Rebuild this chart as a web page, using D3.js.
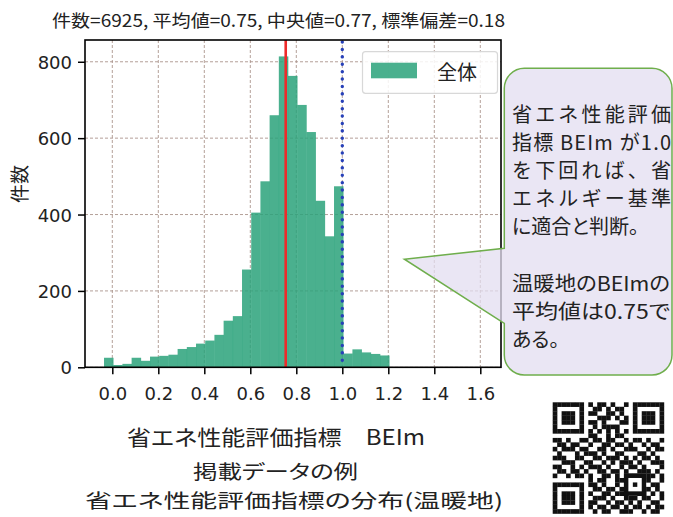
<!DOCTYPE html>
<html>
<head>
<meta charset="utf-8">
<script src="https://cdn.jsdelivr.net/npm/d3@7"></script>
<style>
  html, body { margin: 0; padding: 0; background: #fff; }
  svg { display: block; }
  .jp { font-family: "Noto Sans CJK JP", "Noto Sans", sans-serif; font-feature-settings: "palt"; }
  .jpw { font-family: "Noto Sans CJK JP", "Noto Sans", sans-serif; }
  .num { font-family: "DejaVu Sans", sans-serif; }
</style>
</head>
<body>
<svg id="chart" width="673" height="517"></svg>
<script>
// ---- data ----
const binEdges = [-0.036,0.004,0.044,0.084,0.124,0.164,0.204,0.244,0.284,0.324,0.364,0.404,0.444,0.484,0.524,0.564,0.604,0.644,0.684,0.724,0.764,0.804,0.844,0.884,0.924,0.964,1.004,1.044,1.084,1.124,1.164,1.204];
const counts = [25,6,9,25,17,28,30,33,48,53,62,70,85,122,134,256,405,487,660,814,763,687,616,436,343,474,36,47,39,35,31];
const xTicks = [0.0,0.2,0.4,0.6,0.8,1.0,1.2,1.4,1.6];
const yTicks = [0,200,400,600,800];
const meanValue = 0.754;
const thresholdValue = 1.0;
const titleText = "件数=6925, 平均値=0.75, 中央値=0.77, 標準偏差=0.18";
const xLabel = "省エネ性能評価指標　BEIm";
const yLabel = "件数";
const legendLabel = "全体";
const captionLines = ["掲載データの例", "省エネ性能評価指標の分布(温暖地)"];
const calloutLines = ["省エネ性能評価", "指標 BEIm が1.0", "を下回れば、省", "エネルギー基準", "に適合と判断。", "", "温暖地のBEImの", "平均値は0.75で", "ある。"];
const calloutWidths = [159, 159, 159, 159, null, null, 158, 158, null];
const qrData = [
"1111111010110100101111111",
"1000001001101011001000001",
"1011101011001101001011101",
"1011101000111010101011101",
"1011101011010001101011101",
"1000001001011110001000001",
"1111111010101010101111111",
"0000000011001011000000000",
"1101001101101100101101001",
"0110110010011011010010110",
"1011101100110100111001011",
"0100010111010011000110100",
"1110011001101110101011010",
"0011100110010101110100111",
"1100101011101001011010001",
"0110110100110110100111010",
"1001011010011010111001101",
"0000000010110011101101001",
"1111111011010010110100110",
"1000001001101101001011010",
"1011101010011011100110101",
"1011101001110100111011001",
"1011101011001011010100110",
"1000001010110110101101011",
"1111111001011001110010110"
];

// ---- layout ----
const svg = d3.select("#chart");
const plot = { left: 85, right: 501, top: 40, bottom: 367.3 };
const x = d3.scaleLinear().domain([-0.1187, 1.690]).range([plot.left, plot.right]);
const y = d3.scaleLinear().domain([0, 857]).range([plot.bottom, plot.top]);
const barColor = "#2aa27a";
const textColor = "#222";

// grid
const grid = svg.append("g");
grid.selectAll("line.gx").data(xTicks).join("line")
  .attr("x1", d => x(d)).attr("x2", d => x(d))
  .attr("y1", plot.top).attr("y2", plot.bottom)
  .attr("stroke", "#a89088").attr("stroke-width", 1).attr("stroke-dasharray", "3,2").attr("opacity", 0.85);
grid.selectAll("line.gy").data(yTicks).join("line")
  .attr("x1", plot.left).attr("x2", plot.right)
  .attr("y1", d => y(d)).attr("y2", d => y(d))
  .attr("stroke", "#a89088").attr("stroke-width", 1).attr("stroke-dasharray", "3,2").attr("opacity", 0.85);

// bars
svg.append("g").selectAll("rect").data(counts).join("rect")
  .attr("x", (d, i) => x(binEdges[i]))
  .attr("width", (d, i) => x(binEdges[i + 1]) - x(binEdges[i]) + 0.3)
  .attr("y", d => y(d))
  .attr("height", d => y(0) - y(d))
  .attr("fill", barColor).attr("fill-opacity", 0.85);

// mean & threshold lines
svg.append("line")
  .attr("x1", x(meanValue)).attr("x2", x(meanValue))
  .attr("y1", plot.top).attr("y2", plot.bottom)
  .attr("stroke", "#ee2a2a").attr("stroke-width", 2.6);
svg.append("line")
  .attr("x1", x(thresholdValue)).attr("x2", x(thresholdValue))
  .attr("y1", plot.top + 2).attr("y2", plot.bottom)
  .attr("stroke", "#2740b8").attr("stroke-width", 3.4)
  .attr("stroke-dasharray", "0.1,7.3").attr("stroke-linecap", "round");

// axes
const xAxis = d3.axisBottom(x).tickValues(xTicks).tickFormat(d3.format(".1f")).tickSize(7).tickPadding(4);
const yAxis = d3.axisLeft(y).tickValues(yTicks).tickFormat(d3.format("d")).tickSize(7).tickPadding(6);
const gx = svg.append("g").attr("transform", `translate(0,${plot.bottom})`).call(xAxis);
const gy = svg.append("g").attr("transform", `translate(${plot.left},0)`).call(yAxis);
[gx, gy].forEach(g => {
  g.select(".domain").remove();
  g.selectAll(".tick line").attr("stroke", "#000").attr("stroke-width", 1.5);
  g.selectAll(".tick text").attr("class", "num").attr("font-size", 18).attr("fill", textColor);
});
gx.selectAll(".tick text").attr("dy", "1.2em");
gy.selectAll(".tick text").attr("dy", "0.36em");

// frame
svg.append("rect")
  .attr("x", plot.left).attr("y", plot.top)
  .attr("width", plot.right - plot.left).attr("height", plot.bottom - plot.top)
  .attr("fill", "none").attr("stroke", "#000").attr("stroke-width", 1.6);

// legend
const lg = svg.append("g");
lg.append("rect").attr("x", 362.5).attr("y", 51.7).attr("width", 135).attr("height", 41.6).attr("rx", 3)
  .attr("fill", "#fff").attr("fill-opacity", 0.85).attr("stroke", "#d8d8d8").attr("stroke-width", 1.2);
lg.append("rect").attr("x", 371).attr("y", 62.7).attr("width", 46).attr("height", 15.6)
  .attr("fill", barColor).attr("fill-opacity", 0.85);
lg.append("text").attr("class", "jp").attr("x", 437).attr("y", 71.5)
  .attr("dominant-baseline", "central").attr("font-size", 20).attr("fill", textColor).text(legendLabel);

// title
svg.append("text").attr("class", "jp").attr("x", 52).attr("y", 19)
  .attr("dominant-baseline", "central").attr("font-size", 17.5).attr("fill", textColor)
  .attr("textLength", 453).attr("lengthAdjust", "spacingAndGlyphs").text(titleText);

// y label
svg.append("text").attr("class", "jp")
  .attr("transform", "translate(18,184) rotate(-90)")
  .attr("text-anchor", "middle").attr("dominant-baseline", "central")
  .attr("font-size", 19).attr("fill", textColor).text(yLabel);

// x label
svg.append("text").attr("class", "jp").attr("x", 127).attr("y", 436)
  .attr("dominant-baseline", "central").attr("font-size", 21).attr("fill", textColor)
  .attr("textLength", 298).attr("lengthAdjust", "spacingAndGlyphs").text(xLabel);

// caption
svg.append("text").attr("class", "jp").attr("x", 193).attr("y", 470.5)
  .attr("dominant-baseline", "central").attr("font-size", 19.5).attr("fill", textColor)
  .attr("textLength", 165).attr("lengthAdjust", "spacingAndGlyphs").text(captionLines[0]);
svg.append("text").attr("class", "jp").attr("x", 85).attr("y", 499)
  .attr("dominant-baseline", "central").attr("font-size", 19.5).attr("fill", textColor)
  .attr("textLength", 418).attr("lengthAdjust", "spacingAndGlyphs").text(captionLines[1]);

// callout
const cL = 504.3, cR = 672, cT = 68.3, cB = 375, r = 20;
const tip = [x(1.27), y(283)];
const path = `M${cL + r},${cT} H${cR - r} A${r},${r} 0 0 1 ${cR},${cT + r} V${cB - r} A${r},${r} 0 0 1 ${cR - r},${cB} H${cL + r} A${r},${r} 0 0 1 ${cL},${cB - r} V323.3 L${tip[0]},${tip[1]} L${cL},248.3 V${cT + r} A${r},${r} 0 0 1 ${cL + r},${cT} Z`;
svg.append("path").attr("d", path)
  .attr("fill", "#e3ddf0").attr("fill-opacity", 0.75)
  .attr("stroke", "#6fae4c").attr("stroke-width", 1.5);
const ct = svg.append("g");
calloutLines.forEach((t, i) => {
  if (!t) return;
  const tx = ct.append("text").attr("class", i < 4 ? "jpw" : "jp").attr("x", 512).attr("y", 113 + 28.2 * i)
    .attr("dominant-baseline", "central").attr("font-size", 20).attr("fill", textColor).text(t);
  if (calloutWidths[i]) tx.attr("textLength", calloutWidths[i]).attr("lengthAdjust", i < 4 ? "spacing" : "spacingAndGlyphs");
});

// QR code
const qrX = 552.7, qrY = 402.3, qrSize = 111.3, n = qrData.length, m = qrSize / n;
const qr = svg.append("g");
const cells = [];
qrData.forEach((row, ri) => row.split("").forEach((c, ci) => { if (c === "1") cells.push([ri, ci]); }));
qr.selectAll("rect").data(cells).join("rect")
  .attr("x", d => qrX + d[1] * m).attr("y", d => qrY + d[0] * m)
  .attr("width", m + 0.2).attr("height", m + 0.2).attr("fill", "#111");
// alignment pattern
const ap = qr.append("g");
ap.append("rect").attr("x", qrX + 16 * m).attr("y", qrY + 16 * m).attr("width", 5 * m).attr("height", 5 * m).attr("fill", "#111");
ap.append("rect").attr("x", qrX + 17 * m).attr("y", qrY + 17 * m).attr("width", 3 * m).attr("height", 3 * m).attr("fill", "#fff");
ap.append("rect").attr("x", qrX + 18 * m).attr("y", qrY + 18 * m).attr("width", m).attr("height", m).attr("fill", "#111");
</script>
</body>
</html>
